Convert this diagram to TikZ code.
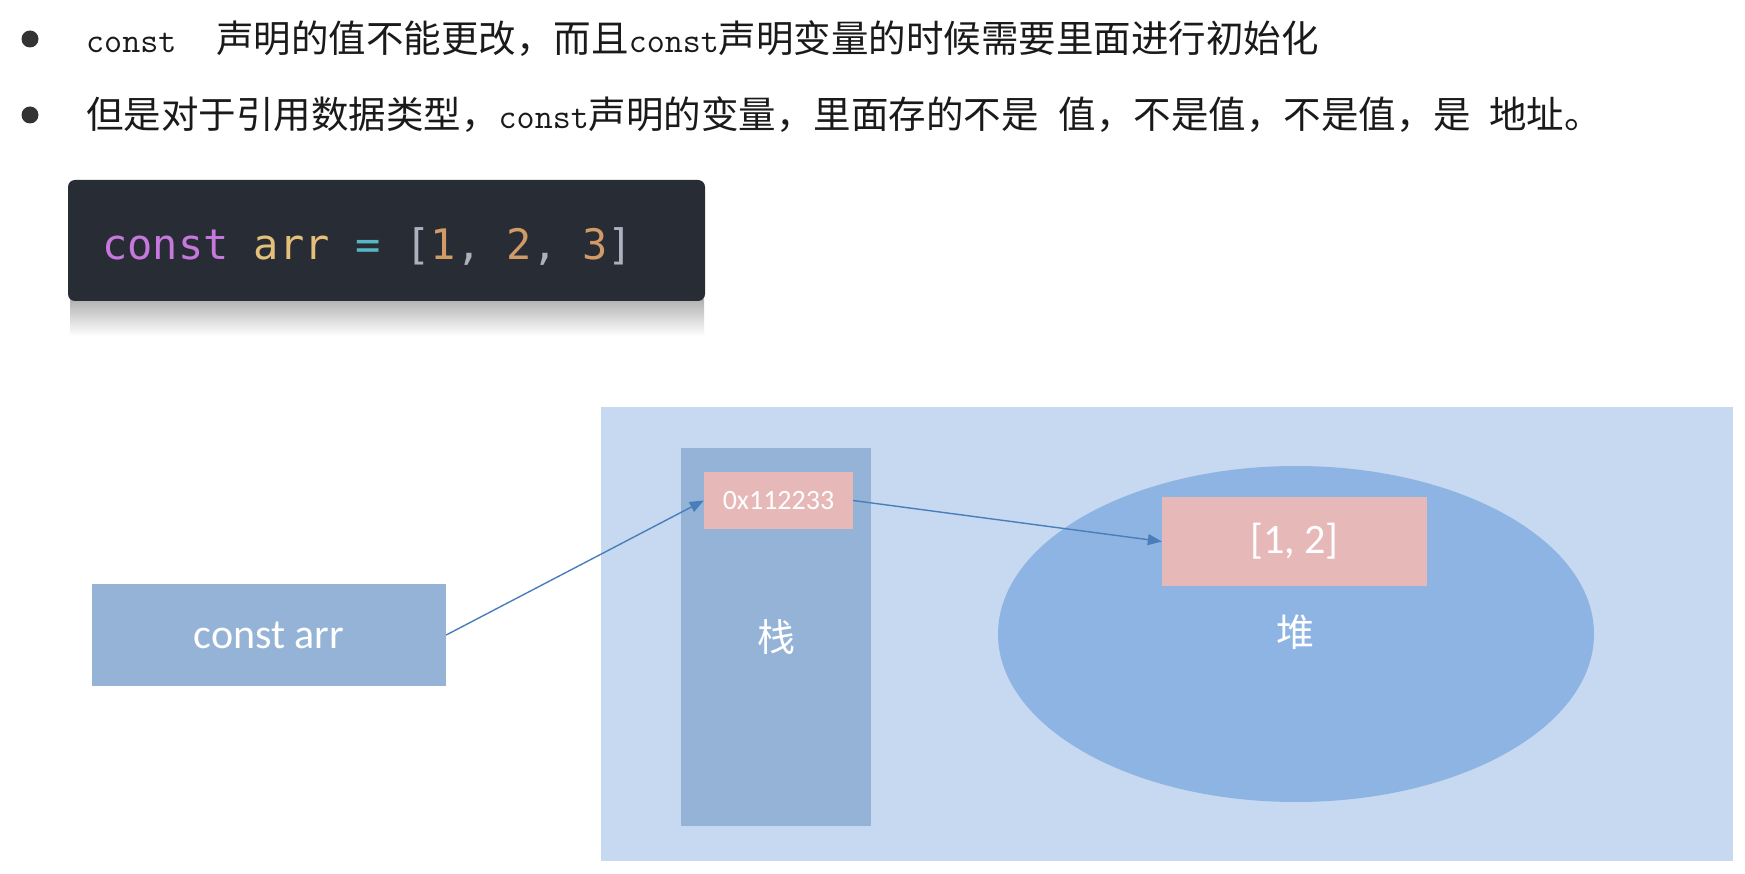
\documentclass[tikz,border=0pt]{standalone}
\usepackage{fontspec}
\setmainfont{Carlito}
\newfontfamily\cjk{Noto Sans CJK SC}
\newfontfamily\codefont{DejaVu Sans Mono}
\usetikzlibrary{arrows.meta,shapes.geometric}
\definecolor{bgblue}{HTML}{C6D9F0}
\definecolor{midblue}{HTML}{95B3D7}
\definecolor{ellblue}{HTML}{8EB4E3}
\definecolor{pinkbox}{HTML}{E6B9B8}
\definecolor{arrowblue}{HTML}{4A7EBB}
\definecolor{codebg}{HTML}{282C34}
\definecolor{cpurple}{HTML}{C678DD}
\definecolor{cyellow}{HTML}{E5C07B}
\definecolor{ccyan}{HTML}{56B6C2}
\definecolor{cgray}{HTML}{ABB2BF}
\definecolor{corange}{HTML}{D19A66}
\definecolor{txt}{HTML}{1A1A1A}
\tikzset{
  linetext/.style={anchor=west, inner sep=0pt, text=txt, font=\cjk\fontsize{37.5}{44}\selectfont},
  bulletdot/.style={circle, fill=black!80, minimum size=17pt, inner sep=0pt},
  wtext/.style={text=white},
  conn/.style={draw=arrowblue, line width=1.4pt, -{Triangle[length=14pt,width=11pt]}}
}
\newcommand{\cm}[1]{{\ttfamily\fontsize{35}{40}\selectfont #1}}
\begin{document}
\begin{tikzpicture}[x=1pt,y=-1pt]
\useasboundingbox (0,0) rectangle (1745,874);
\fill[white] (0,0) rectangle (1745,874);
% bullets
\node[bulletdot] (b1) at (30,39) {};
\node[bulletdot] (b2) at (30,115) {};
\node[linetext] (l1) at (86,39) {\cm{const}\hspace{40pt}声明的值不能更改，而且\cm{const}声明变量的时候需要里面进行初始化};
\node[linetext] (l2) at (86,115) {但是对于引用数据类型，\cm{const}声明的变量，里面存的不是\hspace{20pt}值，不是值，不是值，是\hspace{18pt}地址。};
% code block with reflection
\shade[top color=black!30, bottom color=white] (70,300) rectangle (704,336);
\fill[codebg, rounded corners=7pt] (68,180) rectangle (705,301);
\node[anchor=west, inner sep=0pt, font=\codefont\fontsize{42}{48}\selectfont] (code) at (102,246)
  {\textcolor{cpurple}{const} \textcolor{cyellow}{arr} \textcolor{ccyan}{=} \textcolor{cgray}{[}\textcolor{corange}{1}\textcolor{cgray}{,} \textcolor{corange}{2}\textcolor{cgray}{,} \textcolor{corange}{3}\textcolor{cgray}{]}};
% memory area
\fill[bgblue] (601,407) rectangle (1733,861);
\node[fill=midblue, minimum width=190pt, minimum height=378pt, inner sep=0pt] (stack) at (776,637) {};
\node[wtext, font=\cjk\fontsize{38}{44}\selectfont] (stacklbl) at (776,637) {栈};
\node[fill=pinkbox, minimum width=149pt, minimum height=57pt, inner sep=0pt, wtext, font=\fontsize{28}{32}\selectfont] (addr) at (778.5,500.5) {\raisebox{-1pt}{0x112233}};
\node[ellipse, fill=ellblue, minimum width=596pt, minimum height=336pt, inner sep=0pt] (heap) at (1296,634) {};
\node[wtext, font=\cjk\fontsize{38}{44}\selectfont] (heaplbl) at (1295,632) {堆};
\node[fill=pinkbox, minimum width=265pt, minimum height=89pt, inner sep=0pt, wtext, font=\fontsize{42}{48}\selectfont] (val) at (1294.5,541.5) {\raisebox{-4pt}{[1, 2]}};
\node[fill=midblue, minimum width=354pt, minimum height=102pt, inner sep=0pt, wtext, font=\fontsize{42}{48}\selectfont] (var) at (269,635) {\raisebox{-2pt}{const arr}};
% connectors
\draw[conn] (var.east) -- (addr.west);
\draw[conn] (addr.east) -- (val.west);
\end{tikzpicture}
\end{document}
